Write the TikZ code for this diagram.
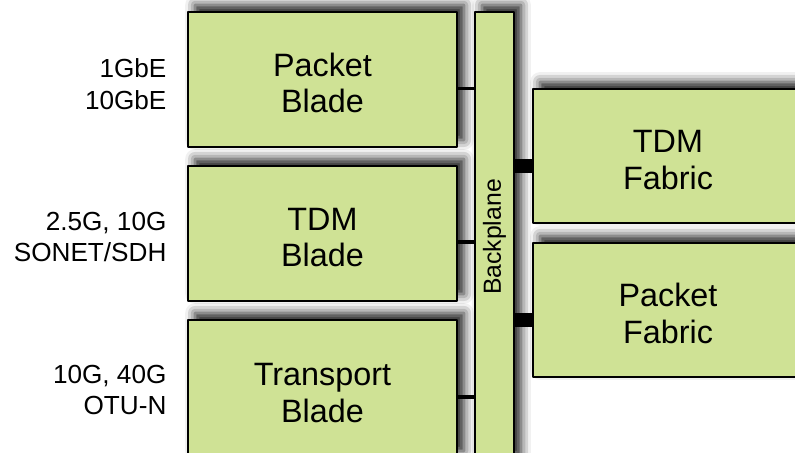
\documentclass[tikz,border=0pt]{standalone}
\usepackage{fontspec}
\setmainfont{Liberation Sans}
\usetikzlibrary{shadows.blur}
\definecolor{bladegreen}{RGB}{207,226,149}
\begin{document}
\begin{tikzpicture}[x=0.025cm,y=-0.025cm,line join=round,thick]
	\tikzset{blade/.style={draw=black,line width=1.1pt,fill=bladegreen,align=center,
			font=\fontsize{23}{26}\selectfont,
			blur shadow={shadow xshift=5pt,shadow yshift=5pt,shadow blur radius=7pt,shadow opacity=90}},
		bladetext/.style={text height=47.6pt,text depth=0pt},
		rate/.style={align=right,anchor=east,inner sep=0pt,font=\fontsize{18.6}{22.5}\selectfont},
		thinlink/.style={line width=2.2pt},
		thicklink/.style={line width=10pt}}
	\def\unitpx{0.025cm} \def\bw{269} \def\bh{135}
	\useasboundingbox (0,0) rectangle (795,453);
	\clip (0,0) rectangle (795,453);
	% blades
	\node[blade,bladetext,minimum width=\bw*\unitpx,minimum height=\bh*\unitpx] (pblade) at (322.5,79.5) {Packet\\Blade};
	\node[blade,bladetext,minimum width=\bw*\unitpx,minimum height=\bh*\unitpx] (tblade) at (322.5,233.5) {TDM\\Blade};
	\node[blade,bladetext,minimum width=\bw*\unitpx,minimum height=138*\unitpx] (oblade) at (322.5,389) {Transport\\Blade};
	% backplane
	\node[blade,minimum width=39*\unitpx,minimum height=450*\unitpx,font=\fontsize{17.6}{20}\selectfont] (bp) at (494.5,237) {\rotatebox{90}{Backplane}};
	% fabrics
	\node[blade,bladetext,minimum width=270*\unitpx,minimum height=134*\unitpx] (tfab) at (668,156) {TDM\\Fabric};
	\node[blade,bladetext,minimum width=270*\unitpx,minimum height=134*\unitpx] (pfab) at (668,310) {Packet\\Fabric};
	% rates
	\node[rate] (prate) at (167,84) {1GbE\\10GbE};
	\node[rate] (trate) at (167,237) {2.5G, 10G\\SONET/SDH};
	\node[rate] (orate) at (167,390) {10G, 40G\\OTU-N};
	% links
	\foreach \n/\d in {pblade/9,tblade/8.5,oblade/8}
		\draw[thinlink] ([yshift=-\d*\unitpx]\n.east) -- ([yshift=-\d*\unitpx]\n.east -| bp.west);
	\foreach \n in {tfab,pfab}
		\draw[thicklink] ([yshift=-10*\unitpx]\n.west) -- ([yshift=-10*\unitpx]\n.west -| bp.east);
\end{tikzpicture}
\end{document}
